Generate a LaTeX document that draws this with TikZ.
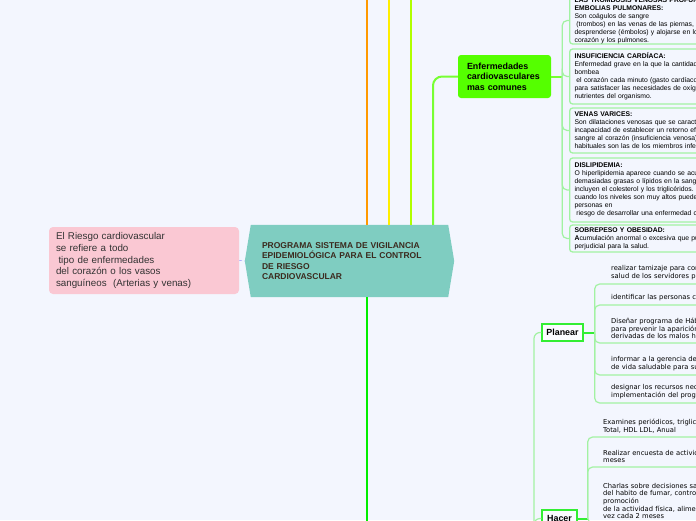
\documentclass[tikz,border=0pt]{standalone}
\usepackage{fontspec}
\setmainfont{Liberation Sans}
\newfontfamily\verd{DejaVu Sans}
\usetikzlibrary{positioning,backgrounds}
\definecolor{fondo}{HTML}{F3F6FE}
\definecolor{naranja}{HTML}{FF9900}
\definecolor{amarillo}{HTML}{FFEE00}
\definecolor{limon}{HTML}{B0FF00}
\definecolor{verderama}{HTML}{77FF33}
\definecolor{verdenodo}{HTML}{55FF00}
\definecolor{verdetronco}{HTML}{00EE00}
\definecolor{verdeclaro}{HTML}{A2F2A2}
\definecolor{verdefase}{HTML}{33EE33}
\definecolor{turquesa}{HTML}{7FCDC1}
\definecolor{rosa}{HTML}{FAC8D3}
\definecolor{cafe}{HTML}{3B2A1E}

\begin{document}
\begin{tikzpicture}[x=1pt,y=-1pt,
  rama/.style={line width=2pt},
  dcaja/.style={draw=verdeclaro, line width=1.3pt, rounded corners=3pt, anchor=west,
    text width=250pt, align=left, inner xsep=5pt, inner ysep=0pt,
    font=\fontsize{6.8}{8}\selectfont},
  hilo/.style={draw=verdeclaro, line width=1.2pt, rounded corners=5pt},
  fase/.style={draw=verdefase, line width=1.3pt, fill=white!70!fondo, inner sep=0pt,
    minimum height=17pt, font=\bfseries\fontsize{8.9}{10}\selectfont},
  pitem/.style={anchor=south west, text width=200pt, align=left, inner xsep=13pt,
    inner ysep=4pt, font=\verd\fontsize{6.75}{7.6}\selectfont},
  hitem/.style={pitem, inner xsep=12pt}]

% marco
\useasboundingbox (0,0) rectangle (696,520);
\clip (0,0) rectangle (696,520);

% nodo central
\node[text width=175pt, align=left, inner xsep=11pt, inner ysep=0pt, minimum height=72pt,
  text=cafe, font=\bfseries\fontsize{8.5}{10.4}\selectfont] (prog) at (349.5,261)
  {PROGRAMA SISTEMA DE VIGILANCIA\\EPIDEMIOLÓGICA PARA EL CONTROL\\DE RIESGO\\CARDIOVASCULAR};
\begin{scope}[on background layer]
  \fill[fondo] (0,0) rectangle (696,520);
  \fill[turquesa] (prog.north west) -- (prog.north east) -- ([xshift=6]prog.east)
    -- (prog.south east) -- (prog.south west) -- ([xshift=-6]prog.west) -- cycle;
\end{scope}
\coordinate (ptip) at ([xshift=-6]prog.west);

% nota de la izquierda
\node[fill=rosa, rounded corners=4pt, text width=176pt, align=left, inner xsep=7pt,
  minimum height=67pt, text=black!80, font=\fontsize{9.8}{11.6}\selectfont] (riesgo) at (144,260.5)
  {El Riesgo cardiovascular\\se refiere a todo\\\hspace*{2.5pt}tipo de enfermedades\\del corazón o los vasos\\sanguíneos~ (Arterias y venas)};
\draw[densely dashed, blue!45, thin] (riesgo.east) -- (ptip);

% ramas hacia arriba
\coordinate (ta) at (367,-5);
\coordinate (tb) at (389,-5);
\coordinate (tc) at (411,-5);
\coordinate (td) at (433,-5);
\draw[rama, naranja] (ta |- prog.north) -- (ta);
\draw[rama, amarillo] (tb |- prog.north) -- (tb);
\draw[rama, limon] (tc |- prog.north) -- (tc);

% rama hacia abajo
\coordinate (tbot) at (367,540);
\draw[verdetronco, line width=2.6pt] (prog.south -| ta) -- (tbot);

% enfermedades
\node[fill=verdenodo, rounded corners=3pt, text width=75pt, align=left, inner xsep=9pt,
  minimum height=43pt, font=\bfseries\fontsize{8.9}{10.5}\selectfont] (enf) at (504.5,76.5)
  {Enfermedades\\cardiovasculares\\mas comunes};
\draw[rama, verderama, rounded corners=9pt] (td |- prog.north) |- (enf.west);
\coordinate (dj) at ([xshift=11]enf.east);
\draw[rama, verderama] (enf.east) -- (dj);

\node[dcaja, minimum height=47pt] (d1) at (569,20.5)
  {\textbf{LAS TROMBOSIS VENOSAS PROFUNDAS Y}\\\textbf{EMBOLIAS PULMONARES:}\\Son coágulos de sangre\\\hspace*{1.8pt}(trombos) en las venas de las piernas, que pueden\\desprenderse (émbolos) y alojarse en los vasos del\\corazón y los pulmones.};
\node[dcaja, minimum height=55pt] (d2) at (569,76.5)
  {\textbf{INSUFICIENCIA CARDÍACA:}\\Enfermedad grave en la que la cantidad de sangre que\\bombea\\\hspace*{1.8pt}el corazón cada minuto (gasto cardíaco) es insuficiente\\para satisfacer las necesidades de oxígeno y de\\nutrientes del organismo.};
\node[dcaja, minimum height=45pt] (d3) at (569,130.5)
  {\textbf{VENAS VARICES:}\\Son dilataciones venosas que se caracterizan por la\\incapacidad de establecer un retorno eficaz de la\\sangre al corazón (insuficiencia venosa). Las más\\habituales son las de los miembros inferiores.};
\node[dcaja, minimum height=64pt] (d4) at (569,190)
  {\textbf{DISLIPIDEMIA:}\\O hiperlipidemia aparece cuando se acumulan\\demasiadas grasas o lípidos en la sangre. Estas grasas\\incluyen el colesterol y los triglicéridos. Son importantes\\cuando los niveles son muy altos pueden poner a las\\personas en\\\hspace*{1.8pt}riesgo de desarrollar una enfermedad cardíaca.};
\node[dcaja, minimum height=27pt] (d5) at (569,238.5)
  {\textbf{SOBREPESO Y OBESIDAD:}\\\textbf{A}cumulación anormal o excesiva que puede ser\\perjudicial para la salud.};
\foreach \b in {d1,d2,d3,d4,d5}
  \draw[hilo] (dj) |- (\b.west);

% fases del ciclo
\coordinate (phva) at (534,560);
\node[fase, minimum width=41pt] (planear) at (562.5,332.5) {Planear};
\node[fase, minimum width=35pt] (hacer) at (559.5,518.5) {Hacer};
\draw[hilo, rounded corners=6pt] (phva) |- (planear.west);
\draw[hilo, rounded corners=6pt] (phva) |- (hacer.west);

% planear
\coordinate (pj) at ([xshift=11]planear.east);
\draw[rama, verdefase] (planear.east) -- (pj);
\node[pitem] (p1) at (598,284) {realizar tamizaje para conocer el estado de\\salud de los servidores públicos};
\node[pitem] (p2) at (598,305) {identificar las personas con factores de riesgo};
\node[pitem] (p3) at (598,343) {Diseñar programa de Hábitos de vida saludable\\para prevenir la aparición de enfermedades\\derivadas de los malos hábitos};
\node[pitem] (p4) at (598,375) {informar a la gerencia del programa de hábitos\\de vida saludable para su aprobación};
\node[pitem] (p5) at (598,403) {designar los recursos necesarios para la\\implementación del programa};
\foreach \i in {p1,p2,p3,p4,p5}
  \draw[hilo] (pj) |- (\i.south east);

% hacer
\coordinate (hj) at ([xshift=10]hacer.east);
\draw[rama, verdefase] (hacer.east) -- (hj);
\node[hitem] (h1) at (591,437) {Examines periódicos, triglicéridos, colesterol\\Total, HDL LDL, Anual};
\node[hitem] (h2) at (591,467) {Realizar encuesta de actividad física cada 6\\meses};
\node[hitem] (h3) at (591,523) {Charlas sobre decisiones saludables, abandono\\del habito de fumar, control de peso,\\promoción\\de la actividad física, alimentación saludable una\\vez cada 2 meses};
\foreach \i in {h1,h2,h3}
  \draw[hilo] (hj) |- (\i.south east);

\end{tikzpicture}
\end{document}
